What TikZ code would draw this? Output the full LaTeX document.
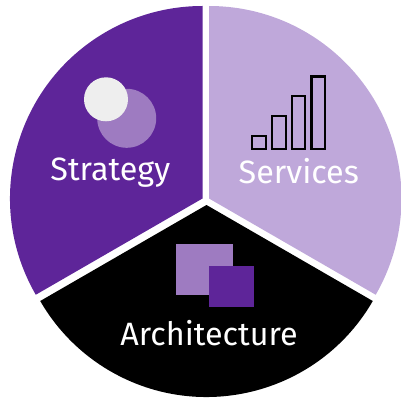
\documentclass[tikz,border=0pt]{standalone}
\usepackage{fontspec}
\setmainfont{Fira Sans}
\definecolor{deep}{HTML}{5E2599}
\definecolor{mid}{HTML}{9E7BC1}
\definecolor{pale}{HTML}{BFA8DA}
\definecolor{chalk}{HTML}{EEEEEE}
\tikzset{
  label text/.style={text=white,font=\fontsize{32.3}{38}\selectfont,anchor=base,inner sep=0pt},
  bar/.style={draw=black,line width=2.1pt,fill=none}
}
\begin{document}
\begin{tikzpicture}[x=1pt,y=-1pt]
\useasboundingbox (0,0) rectangle (401,398);
% y axis is flipped: arc angles run clockwise on the page
\fill[deep] (202.5,198.5) -- ++(150:192.5) arc[start angle=150,end angle=270,radius=192.5] -- cycle;
\fill[pale] (209,198.5) -- ++(270:192.5) arc[start angle=270,end angle=390,radius=192.5] -- cycle;
\fill[black] (206.5,205) -- ++(30:192) arc[start angle=30,end angle=150,radius=192] -- cycle;
% Strategy icon
\fill[mid] (126.7,118.3) circle (29.5);
\fill[chalk] (106,99.3) circle (22);
% Services icon
\draw[bar] (252.2,135.8) rectangle (265.6,148.6);
\draw[bar] (272.2,115.8) rectangle (285.6,148.6);
\draw[bar] (291.8,96.2) rectangle (305.2,148.6);
\draw[bar] (311.5,76.5) rectangle (325.2,148.6);
% Architecture icon
\fill[mid] (176,244) rectangle (233,295);
\fill[deep] (209,266) rectangle (254,307);
\node[label text] (strategy) at (110.3,180) {Strategy};
\node[label text] (services) at (298.8,183) {Services};
\node[label text] (architecture) at (209,345.7) {Architecture};
\end{tikzpicture}
\end{document}
